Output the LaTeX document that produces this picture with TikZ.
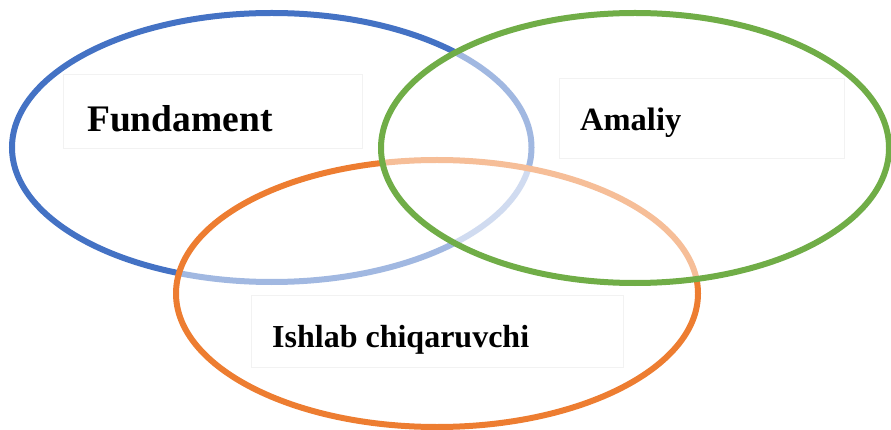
\documentclass[tikz,border=0pt]{standalone}
\usepackage{fontspec}
\setmainfont{Liberation Serif}
\usepackage{xcolor}
\usetikzlibrary{shapes.geometric,positioning,calc}

\definecolor{setblue}{HTML}{4472C4}
\definecolor{setorange}{HTML}{ED7D31}
\definecolor{setgreen}{HTML}{70AD47}
\definecolor{boxline}{HTML}{F2F2F2}

\begin{document}
\begin{tikzpicture}[
  x=1pt, y=-1pt,
  set/.style={ellipse, line width=6pt, inner sep=0pt, outer sep=0pt,
              fill=white, fill opacity=0.5, draw opacity=1},
  tbox/.style={draw=boxline, line width=1pt, inner sep=0pt, fill=white},
  lbl/.style={anchor=base west, inner sep=0pt, font=\bfseries}
]
  \useasboundingbox (0,0) rectangle (891,430);
  % the three sets
  \node[set, draw=setblue, fill opacity=0, minimum width=519.5pt,
        minimum height=269pt] (fund) at (271.75,147.5) {};
  \node[set, draw=setorange, minimum width=522pt,
        minimum height=267pt] (ishl) at (437,293.5) {};
  \node[set, draw=setgreen, minimum width=508pt,
        minimum height=270pt] (amal) at (635,148) {};
  % text boxes
  \node[tbox, minimum width=299pt, minimum height=74pt] (fundbox) at (212.5,112) {};
  \node[tbox, minimum width=285pt, minimum height=80pt] (amalbox) at (701.5,118.5) {};
  \node[tbox, minimum width=372pt, minimum height=72pt] (ishlbox) at (437,331) {};
  \node[lbl, font=\bfseries\fontsize{37.5}{40}\selectfont] (fundtxt) at (87,132) {Fundament};
  \node[lbl, font=\bfseries\fontsize{32.5}{36}\selectfont] (amaltxt) at (580,131) {Amaliy};
  \node[lbl, font=\bfseries\fontsize{32}{36}\selectfont] (ishltxt) at (272,347) {Ishlab chiqaruvchi};
\end{tikzpicture}
\end{document}
